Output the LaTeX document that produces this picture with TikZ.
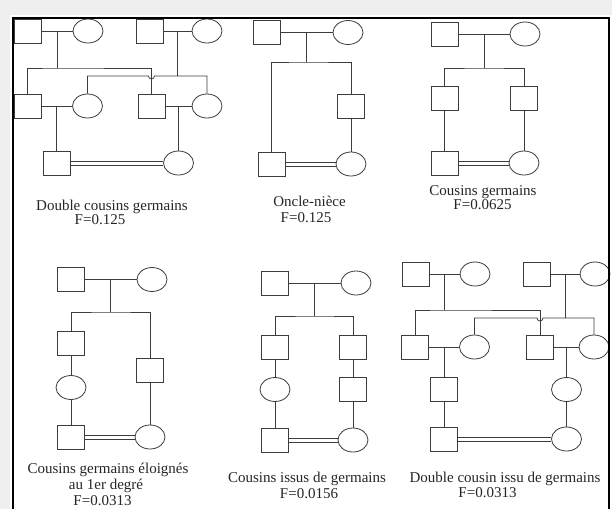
\documentclass[tikz,border=0pt]{standalone}
\usepackage{fontspec}
\setmainfont{Liberation Serif}
\usetikzlibrary{shapes.geometric, calc}

\definecolor{linecol}{HTML}{3C3C3C}
\definecolor{bgcol}{HTML}{EEEFEE}

\begin{document}
\begin{tikzpicture}[
  x=1pt, y=-1pt,
  male/.style={draw=linecol, fill=white, line width=0.8pt, minimum width=27pt,
               minimum height=24pt, inner sep=0pt},
  female/.style={ellipse, draw=linecol, fill=white, line width=0.8pt, minimum width=30pt,
                 minimum height=24pt, inner sep=0pt},
  link/.style={draw=linecol, line width=0.8pt},
  lbl/.style={font=\fontsize{15}{15}\selectfont, text=black!85, inner sep=0pt, anchor=base},
  frame/.style={draw=black, line width=1.2pt},
]

% --- Background and frame ---
\useasboundingbox (0,0) rectangle (612,509);
\fill[bgcol] (0,0) rectangle (612,509);
\fill[white] (10,15) rectangle (612,509);

% --- Double cousins germains ---
\node[male] (a1) at (27.5,31) {};
\node[female] (a2) at (88,31) {};
\node[male] (a3) at (149.5,31) {};
\node[female] (a4) at (207,31) {};
\node[male] (a5) at (27.5,106) {};
\node[female] (a6) at (87.5,106) {};
\node[male] (a7) at (151.5,106) {};
\node[female] (a8) at (207,106) {};
\node[male] (a9) at (57,163) {};
\node[female] (a10) at (178.5,163) {};
\coordinate (sa1) at (57,68);
\coordinate (sa2) at (177.5,76);

\draw[link] (a1) -- (a2) coordinate[midway] (a12);
\draw[link] (a3) -- (a4) coordinate[midway] (a34);
\draw[link] (a12) -- (a12 |- sa1);
\draw[link] (a34) -- (a34 |- sa2);
\draw[link] (a5.north) |- (sa1) -| (a7.north);
\draw[link] (a6.north) |- ([xshift=-3pt]a7.north |- sa2)
  arc[start angle=180, end angle=360, radius=3pt] -| (a8.north);
\draw[link] (a5) -- (a6) coordinate[midway] (a56);
\draw[link] (a7) -- (a8) coordinate[midway] (a78);
\draw[link] (a56) -- (a56 |- a9.north);
\draw[link] (a78) -- (a78 |- a10.north);
\draw[link] ([yshift=-2pt]a9.east) -- ([yshift=-2pt]a10.west);
\draw[link] ([yshift=2pt]a9.east) -- ([yshift=2pt]a10.west);

\node[lbl] (ta1) at (112,210.5) {Double cousins germains};
\node[lbl] (ta2) at (100,224) {F=0.125};

% --- Oncle-niece ---
\node[male] (b1) at (267,32.5) {};
\node[female] (b2) at (348,32.5) {};
\node[male] (b3) at (351,106) {};
\node[male] (b4) at (271.5,164) {};
\node[female] (b5) at (351,164) {};
\coordinate (sb1) at (306,62);

\draw[link] (b1) -- (b2) coordinate[midway] (b12);
\draw[link] (b12) -- (b12 |- sb1);
\draw[link] (b4.north) |- (sb1) -| (b3.north);
\draw[link] (b3) -- (b5);
\draw[link] ([yshift=-2pt]b4.east) -- ([yshift=-2pt]b5.west);
\draw[link] ([yshift=2pt]b4.east) -- ([yshift=2pt]b5.west);

\node[lbl] (tb1) at (309.5,206.5) {Oncle-nièce};
\node[lbl] (tb2) at (306,222.5) {F=0.125};

% --- Cousins germains ---
\node[male] (c1) at (444.5,34) {};
\node[female] (c2) at (525,34) {};
\node[male] (c3) at (444.5,98) {};
\node[male] (c4) at (524,98) {};
\node[male] (c5) at (444.5,163) {};
\node[female] (c6) at (524,163) {};
\coordinate (sc1) at (484,68);

\draw[link] (c1) -- (c2) coordinate[midway] (c12);
\draw[link] (c12) -- (c12 |- sc1);
\draw[link] (c3.north) |- (sc1) -| (c4.north);
\draw[link] (c3) -- (c5);
\draw[link] (c4) -- (c6);
\draw[link] ([yshift=-2pt]c5.east) -- ([yshift=-2pt]c6.west);
\draw[link] ([yshift=2pt]c5.east) -- ([yshift=2pt]c6.west);

\node[lbl] (tc1) at (483,195.5) {Cousins germains};
\node[lbl] (tc2) at (482.5,209.5) {F=0.0625};

% --- Cousins germains eloignes ---
\node[male] (d1) at (71,279.5) {};
\node[female] (d2) at (152,279.5) {};
\node[male] (d3) at (71,343) {};
\node[female] (d4) at (71,387.5) {};
\node[male] (d5) at (71,437) {};
\node[male] (d6) at (150,370.5) {};
\node[female] (d7) at (150,437) {};
\coordinate (sd1) at (111,312);

\draw[link] (d1) -- (d2) coordinate[midway] (d12);
\draw[link] (d12) -- (d12 |- sd1);
\draw[link] (d3.north) |- (sd1) -| (d6.north);
\draw[link] (d3) -- (d4);
\draw[link] (d4) -- (d5);
\draw[link] (d6) -- (d7);
\draw[link] ([yshift=-2pt]d5.east) -- ([yshift=-2pt]d7.west);
\draw[link] ([yshift=2pt]d5.east) -- ([yshift=2pt]d7.west);

\node[lbl] (td1) at (108,473) {Cousins germains éloignés};
\node[lbl] (td2) at (106,489.5) {au 1er degré};
\node[lbl] (td3) at (102.5,505.5) {F=0.0313};

% --- Cousins issus de germains ---
\node[male] (e1) at (275,283) {};
\node[female] (e2) at (356,283) {};
\node[male] (e3) at (275,347) {};
\node[male] (e4) at (353,347) {};
\node[female] (e5) at (275,389.5) {};
\node[male] (e6) at (353,389.5) {};
\node[male] (e7) at (275,440) {};
\node[female] (e8) at (353,440) {};
\coordinate (se1) at (315,316);

\draw[link] (e1) -- (e2) coordinate[midway] (e12);
\draw[link] (e12) -- (e12 |- se1);
\draw[link] (e3.north) |- (se1) -| (e4.north);
\draw[link] (e3) -- (e5);
\draw[link] (e5) -- (e7);
\draw[link] (e4) -- (e6);
\draw[link] (e6) -- (e8);
\draw[link] ([yshift=-2pt]e7.east) -- ([yshift=-2pt]e8.west);
\draw[link] ([yshift=2pt]e7.east) -- ([yshift=2pt]e8.west);

\node[lbl] (te1) at (307,482.5) {Cousins issus de germains};
\node[lbl] (te2) at (309,498.5) {F=0.0156};

% --- Double cousin issu de germains ---
\node[male] (f1) at (415.5,274) {};
\node[female] (f2) at (475,274) {};
\node[male] (f3) at (537,274) {};
\node[female] (f4) at (595,274) {};
\node[male] (f5) at (415,347) {};
\node[female] (f6) at (474.5,347) {};
\node[male] (f7) at (540,347) {};
\node[female] (f8) at (594,347) {};
\node[male] (f9) at (444,389.5) {};
\node[female] (f10) at (566.5,389.5) {};
\node[male] (f11) at (444,439) {};
\node[female] (f12) at (566.5,439) {};
\coordinate (sf1) at (444.5,310);
\coordinate (sf2) at (565.5,318);

\draw[link] (f1) -- (f2) coordinate[midway] (f12c);
\draw[link] (f3) -- (f4) coordinate[midway] (f34);
\draw[link] (f12c) -- (f12c |- sf1);
\draw[link] (f34) -- (f34 |- sf2);
\draw[link] (f5.north) |- (sf1) -| (f7.north);
\draw[link] (f6.north) |- ([xshift=-3pt]f7.north |- sf2)
  arc[start angle=180, end angle=360, radius=3pt] -| (f8.north);
\draw[link] (f5) -- (f6) coordinate[midway] (f56);
\draw[link] (f7) -- (f8) coordinate[midway] (f78);
\draw[link] (f56) -- (f56 |- f9.north);
\draw[link] (f9) -- (f11);
\draw[link] (f78) -- (f78 |- f10.north);
\draw[link] (f10) -- (f12);
\draw[link] ([yshift=-2pt]f11.east) -- ([yshift=-2pt]f12.west);
\draw[link] ([yshift=2pt]f11.east) -- ([yshift=2pt]f12.west);

\node[lbl] (tf1) at (505,482) {Double cousin issu de germains};
\node[lbl] (tf2) at (487.5,497.5) {F=0.0313};

% --- Frame ---
\draw[frame] (13,509) -- (13,18) -- (609,18) -- (609,509);

\end{tikzpicture}
\end{document}
